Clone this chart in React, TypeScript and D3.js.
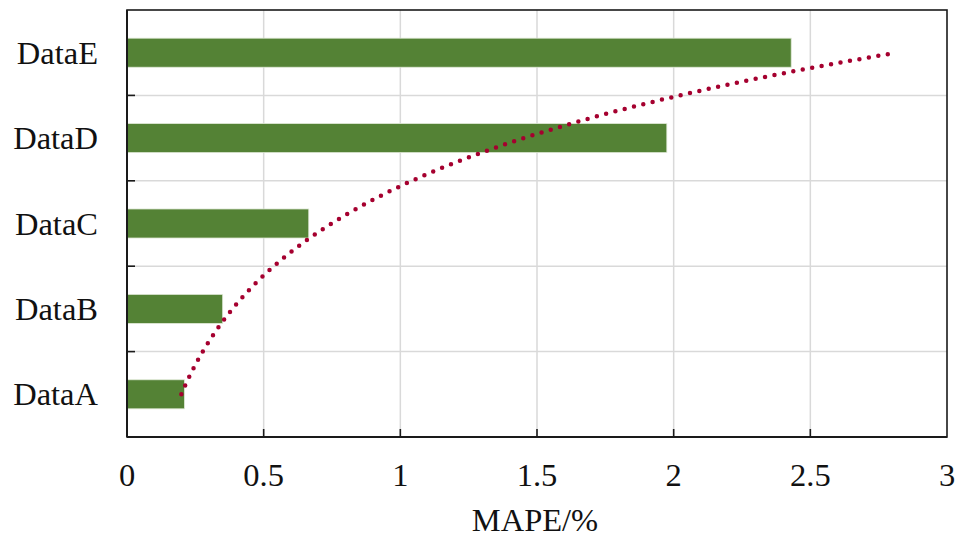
import React from "react";
import * as d3 from "d3";

const categories = ["DataA", "DataB", "DataC", "DataD", "DataE"];
const mape = [0.21, 0.35, 0.665, 1.975, 2.43];
const xTicks = [0, 0.5, 1, 1.5, 2, 2.5, 3];

const W = 961;
const H = 539;
const margin = { top: 10, right: 14, bottom: 102, left: 127 };
const FONT = "'Liberation Serif', 'Times New Roman', serif";
const FS = 32.5;

// exponential trendline (like Excel): value = a * exp(b * index), index 1..n
const fitExp = (vals: number[]) => {
  const xs = vals.map((_, i) => i + 1);
  const ys = vals.map((v) => Math.log(v));
  const mx = d3.mean(xs) as number;
  const my = d3.mean(ys) as number;
  const b =
    d3.sum(xs, (x, i) => (x - mx) * (ys[i] - my)) /
    d3.sum(xs, (x) => (x - mx) * (x - mx));
  const a = Math.exp(my - b * mx);
  return (t: number) => a * Math.exp(b * t);
};

const App = () => {
  const x0 = margin.left;
  const x1 = W - margin.right;
  const y0 = margin.top;
  const y1 = H - margin.bottom;

  const x = d3.scaleLinear().domain([0, 3]).range([x0, x1]);
  const y = d3
    .scaleBand()
    .domain([...categories].reverse())
    .range([y0, y1])
    .paddingInner(0.66)
    .paddingOuter(0.33);

  const center = (c: string) => (y(c) as number) + y.bandwidth() / 2;
  const step = y.step();
  const boundaries = d3.range(1, categories.length).map((i) => y0 + i * step);

  const trend = fitExp(mape);
  const idx = d3
    .scaleLinear()
    .domain([1, categories.length])
    .range([center(categories[0]), center(categories[categories.length - 1])]);
  const samples = d3.range(1, categories.length + 0.001, 0.05);
  const line = d3
    .line<number>()
    .x((t) => x(trend(t)))
    .y((t) => idx(t));

  return (
    <svg
      width={W}
      height={H}
      style={{ position: "absolute", left: 0, top: 0, background: "#fff" }}
      fontFamily={FONT}
    >
      {/* grid */}
      {xTicks.slice(1, -1).map((t) => (
        <line key={"gx" + t} x1={x(t)} x2={x(t)} y1={y0} y2={y1} stroke="#d9d9d9" strokeWidth={1.5} />
      ))}
      {boundaries.map((b) => (
        <line key={"gy" + b} x1={x0} x2={x1} y1={b} y2={b} stroke="#d9d9d9" strokeWidth={1.5} />
      ))}

      {/* bars */}
      {categories.map((c, i) => (
        <rect
          key={c}
          x={x(0)}
          y={y(c)}
          width={x(mape[i]) - x(0)}
          height={y.bandwidth()}
          fill="#548235"
          stroke="#dfe8d6"
          strokeWidth={0.8}
        />
      ))}

      {/* trendline */}
      <path
        d={line(samples) as string}
        fill="none"
        stroke="#A5002F"
        strokeWidth={4.5}
        strokeLinecap="round"
        strokeDasharray="0 9.6"
      />

      {/* frame */}
      <rect x={x0} y={y0} width={x1 - x0} height={y1 - y0} fill="none" stroke="#1a1a1a" strokeWidth={1.6} />
      <line x1={x0} x2={x0} y1={y0} y2={y1} stroke="#1a1a1a" strokeWidth={2} />
      <line x1={x0} x2={x1} y1={y1} y2={y1} stroke="#1a1a1a" strokeWidth={2} />

      {/* ticks */}
      {boundaries.map((b) => (
        <line key={"ty" + b} x1={x0} x2={x0 + 8} y1={b} y2={b} stroke="#1a1a1a" strokeWidth={1.6} />
      ))}
      {xTicks.slice(1, -1).map((t) => (
        <line key={"tx" + t} x1={x(t)} x2={x(t)} y1={y1} y2={y1 - 8} stroke="#1a1a1a" strokeWidth={1.6} />
      ))}

      {/* tick labels */}
      {xTicks.map((t) => (
        <text key={"lx" + t} x={x(t)} y={486} textAnchor="middle" fontSize={FS} fill="#111">
          {t}
        </text>
      ))}
      {categories.map((c) => (
        <text key={"ly" + c} x={98} y={center(c) + 11} textAnchor="end" fontSize={FS} fill="#111">
          {c}
        </text>
      ))}

      <text x={535} y={531} textAnchor="middle" fontSize={FS} fill="#111">
        MAPE/%
      </text>
    </svg>
  );
};

export default App;
